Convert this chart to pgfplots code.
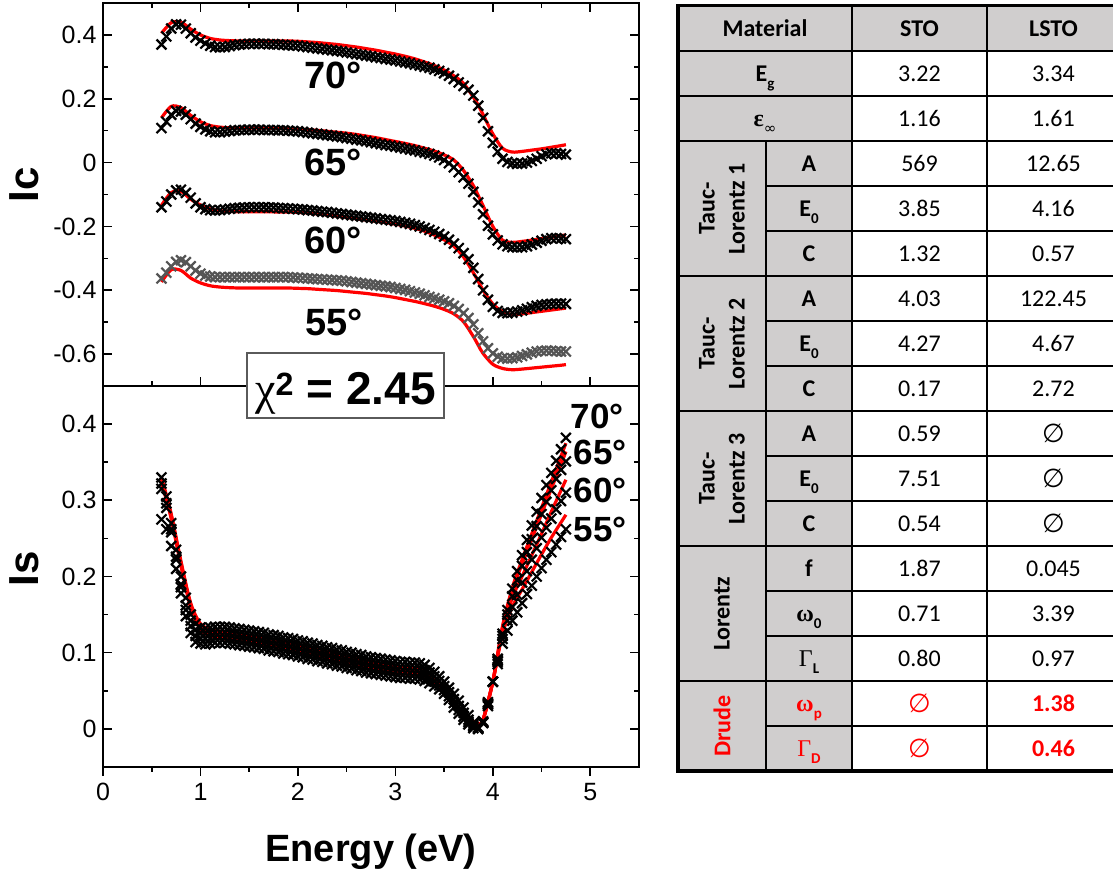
\documentclass[border=0pt]{standalone}
\usepackage{pgfplots}
\pgfplotsset{compat=1.18}
\usepackage{pgfplotstable}
\usepackage{fontspec}
\setmainfont{Liberation Sans}
\newfontfamily\calfont{Carlito}
\newfontfamily\serfont{Liberation Serif}
\newfontfamily\djfont{DejaVu Sans}
\definecolor{tabgray}{RGB}{208,206,206}
\definecolor{dgray}{RGB}{85,85,85}
\definecolor{fitred}{RGB}{255,0,0}
\newcommand\tf{\calfont\fontsize{24}{30}\selectfont}
\newcommand\sub[1]{\raisebox{-0.28em}{\fontsize{15}{15}\selectfont #1}}
\newcommand\es{{\djfont\fontsize{26}{28}\selectfont ∅}}

\pgfplotstableread{
E c70 c65 c60 c55 s70 s65 s60 s55
0.60 0.370 0.108 -0.140 -0.363 0.330 0.322 0.315 0.275
0.65 0.395 0.128 -0.122 -0.345 0.305 0.296 0.290 0.262
0.70 0.420 0.150 -0.100 -0.325 0.270 0.262 0.258 0.240
0.75 0.433 0.162 -0.087 -0.311 0.235 0.226 0.222 0.210
0.80 0.432 0.160 -0.085 -0.306 0.200 0.190 0.186 0.178
0.85 0.420 0.150 -0.095 -0.312 0.172 0.162 0.156 0.148
0.90 0.405 0.136 -0.110 -0.325 0.150 0.142 0.135 0.126
0.95 0.392 0.122 -0.128 -0.338 0.138 0.130 0.122 0.114
1.00 0.382 0.112 -0.140 -0.348 0.133 0.126 0.119 0.112
1.05 0.373 0.104 -0.146 -0.354 0.132 0.125 0.118 0.111
1.10 0.366 0.098 -0.149 -0.357 0.133 0.126 0.119 0.112
1.15 0.362 0.095 -0.150 -0.359 0.134 0.127 0.120 0.113
1.20 0.361 0.095 -0.149 -0.359 0.134 0.127 0.120 0.113
1.25 0.362 0.097 -0.147 -0.359 0.134 0.127 0.120 0.113
1.30 0.365 0.099 -0.145 -0.359 0.133 0.126 0.119 0.112
1.35 0.368 0.101 -0.143 -0.359 0.132 0.125 0.118 0.111
1.40 0.370 0.102 -0.142 -0.359 0.131 0.124 0.117 0.110
1.45 0.371 0.102 -0.141 -0.359 0.130 0.123 0.116 0.109
1.50 0.372 0.103 -0.140 -0.359 0.129 0.122 0.115 0.108
1.55 0.372 0.103 -0.140 -0.359 0.128 0.121 0.114 0.107
1.60 0.372 0.103 -0.140 -0.359 0.127 0.120 0.113 0.106
1.65 0.372 0.102 -0.140 -0.359 0.126 0.119 0.112 0.105
1.70 0.371 0.102 -0.141 -0.359 0.124 0.117 0.110 0.103
1.75 0.371 0.102 -0.141 -0.359 0.123 0.116 0.109 0.102
1.80 0.370 0.101 -0.142 -0.359 0.122 0.115 0.108 0.101
1.85 0.369 0.101 -0.143 -0.359 0.120 0.113 0.106 0.099
1.90 0.368 0.100 -0.144 -0.359 0.119 0.112 0.105 0.098
1.95 0.367 0.099 -0.145 -0.360 0.118 0.111 0.104 0.097
2.00 0.366 0.098 -0.146 -0.361 0.116 0.109 0.102 0.095
2.05 0.364 0.096 -0.147 -0.362 0.115 0.108 0.101 0.094
2.10 0.362 0.094 -0.149 -0.363 0.113 0.106 0.099 0.092
2.15 0.360 0.092 -0.150 -0.364 0.112 0.105 0.098 0.091
2.20 0.358 0.090 -0.152 -0.365 0.110 0.103 0.096 0.089
2.25 0.356 0.088 -0.154 -0.366 0.109 0.102 0.095 0.088
2.30 0.354 0.086 -0.155 -0.367 0.107 0.100 0.093 0.086
2.35 0.352 0.084 -0.157 -0.368 0.106 0.099 0.092 0.085
2.40 0.350 0.082 -0.159 -0.369 0.104 0.097 0.090 0.083
2.45 0.348 0.080 -0.161 -0.370 0.103 0.096 0.089 0.082
2.50 0.345 0.077 -0.163 -0.372 0.101 0.094 0.087 0.080
2.55 0.343 0.075 -0.165 -0.374 0.100 0.093 0.086 0.079
2.60 0.340 0.072 -0.167 -0.376 0.098 0.091 0.084 0.077
2.65 0.338 0.070 -0.169 -0.378 0.097 0.090 0.083 0.076
2.70 0.335 0.067 -0.171 -0.380 0.095 0.088 0.081 0.074
2.75 0.333 0.064 -0.173 -0.382 0.094 0.087 0.080 0.073
2.80 0.330 0.061 -0.175 -0.384 0.093 0.086 0.079 0.072
2.85 0.328 0.058 -0.177 -0.386 0.092 0.085 0.078 0.071
2.90 0.325 0.055 -0.179 -0.388 0.091 0.084 0.077 0.070
2.95 0.323 0.053 -0.181 -0.390 0.090 0.083 0.076 0.069
3.00 0.320 0.050 -0.183 -0.393 0.089 0.082 0.075 0.068
3.05 0.317 0.047 -0.186 -0.396 0.088 0.081 0.074 0.067
3.10 0.314 0.044 -0.189 -0.399 0.088 0.081 0.074 0.067
3.15 0.311 0.041 -0.192 -0.403 0.087 0.080 0.073 0.066
3.20 0.307 0.038 -0.196 -0.407 0.087 0.080 0.073 0.066
3.25 0.304 0.034 -0.200 -0.411 0.086 0.079 0.072 0.065
3.30 0.300 0.031 -0.205 -0.416 0.084 0.077 0.070 0.063
3.35 0.297 0.027 -0.211 -0.421 0.080 0.074 0.067 0.060
3.40 0.292 0.022 -0.217 -0.425 0.075 0.069 0.062 0.056
3.45 0.287 0.016 -0.224 -0.430 0.069 0.063 0.057 0.052
3.50 0.280 0.008 -0.232 -0.435 0.062 0.056 0.051 0.046
3.55 0.272 -0.002 -0.242 -0.441 0.054 0.048 0.043 0.038
3.60 0.262 -0.015 -0.254 -0.449 0.046 0.039 0.034 0.028
3.65 0.251 -0.030 -0.268 -0.459 0.037 0.030 0.025 0.020
3.70 0.240 -0.046 -0.284 -0.472 0.028 0.021 0.016 0.012
3.75 0.228 -0.066 -0.303 -0.487 0.018 0.012 0.009 0.006
3.80 0.210 -0.092 -0.330 -0.507 0.008 0.005 0.003 0.001
3.85 0.178 -0.125 -0.365 -0.535 0.002 0.001 0.000 0.000
3.90 0.140 -0.162 -0.400 -0.560 0.008 0.008 0.009 0.010
3.95 0.098 -0.198 -0.430 -0.582 0.030 0.032 0.033 0.035
4.00 0.062 -0.225 -0.452 -0.598 0.062 0.062 0.062 0.062
4.05 0.034 -0.244 -0.465 -0.608 0.092 0.090 0.088 0.085
4.10 0.012 -0.256 -0.471 -0.613 0.125 0.122 0.118 0.112
4.15 0.002 -0.262 -0.472 -0.614 0.156 0.150 0.142 0.129
4.20 -0.002 -0.265 -0.470 -0.613 0.184 0.174 0.160 0.142
4.25 -0.004 -0.266 -0.467 -0.610 0.207 0.195 0.176 0.153
4.30 -0.003 -0.265 -0.463 -0.606 0.228 0.214 0.192 0.165
4.35 0.000 -0.262 -0.458 -0.601 0.248 0.232 0.207 0.177
4.40 0.005 -0.257 -0.453 -0.596 0.267 0.249 0.222 0.188
4.45 0.012 -0.251 -0.449 -0.592 0.285 0.266 0.237 0.200
4.50 0.020 -0.245 -0.446 -0.590 0.303 0.282 0.251 0.211
4.55 0.026 -0.240 -0.444 -0.589 0.320 0.298 0.264 0.222
4.60 0.029 -0.237 -0.443 -0.590 0.336 0.313 0.276 0.232
4.65 0.029 -0.237 -0.442 -0.591 0.352 0.328 0.288 0.242
4.70 0.027 -0.238 -0.442 -0.592 0.367 0.340 0.299 0.252
4.75 0.025 -0.240 -0.443 -0.592 0.382 0.351 0.310 0.262
}\datatab

\pgfplotstableread{
E f70c f65c f60c f55c f70s f65s f60s f55s
0.60 0.405 0.140 -0.134 -0.374 0.330 0.328 0.326 0.324
0.70 0.438 0.176 -0.094 -0.336 0.282 0.280 0.278 0.276
0.80 0.440 0.172 -0.090 -0.338 0.220 0.218 0.216 0.214
0.90 0.418 0.148 -0.115 -0.362 0.165 0.163 0.161 0.159
1.00 0.400 0.128 -0.133 -0.377 0.138 0.136 0.133 0.130
1.10 0.389 0.116 -0.145 -0.386 0.131 0.128 0.125 0.122
1.20 0.384 0.111 -0.151 -0.390 0.128 0.125 0.122 0.119
1.30 0.382 0.109 -0.153 -0.392 0.126 0.123 0.120 0.117
1.40 0.381 0.108 -0.154 -0.393 0.124 0.121 0.118 0.115
1.50 0.381 0.108 -0.154 -0.393 0.122 0.119 0.116 0.113
1.60 0.381 0.108 -0.154 -0.393 0.120 0.117 0.114 0.111
1.70 0.381 0.108 -0.154 -0.393 0.118 0.115 0.112 0.109
1.80 0.381 0.107 -0.155 -0.393 0.116 0.113 0.110 0.107
1.90 0.381 0.106 -0.155 -0.393 0.113 0.110 0.107 0.104
2.00 0.380 0.105 -0.156 -0.394 0.111 0.108 0.105 0.102
2.10 0.378 0.103 -0.158 -0.395 0.108 0.105 0.102 0.099
2.20 0.376 0.101 -0.161 -0.397 0.105 0.102 0.099 0.096
2.30 0.373 0.098 -0.164 -0.399 0.102 0.099 0.096 0.093
2.40 0.370 0.095 -0.168 -0.401 0.099 0.096 0.093 0.090
2.50 0.366 0.092 -0.172 -0.404 0.096 0.093 0.090 0.087
2.60 0.362 0.088 -0.176 -0.407 0.093 0.090 0.087 0.084
2.70 0.357 0.083 -0.180 -0.410 0.090 0.087 0.084 0.081
2.80 0.352 0.078 -0.184 -0.414 0.087 0.084 0.081 0.078
2.90 0.346 0.072 -0.188 -0.418 0.084 0.081 0.078 0.075
3.00 0.340 0.066 -0.193 -0.423 0.082 0.079 0.076 0.073
3.10 0.333 0.060 -0.199 -0.429 0.081 0.078 0.075 0.072
3.20 0.325 0.053 -0.206 -0.435 0.080 0.077 0.074 0.071
3.30 0.315 0.045 -0.215 -0.442 0.077 0.074 0.071 0.068
3.40 0.304 0.036 -0.227 -0.450 0.066 0.064 0.062 0.060
3.50 0.290 0.024 -0.242 -0.460 0.050 0.048 0.047 0.046
3.60 0.272 0.008 -0.262 -0.474 0.034 0.033 0.032 0.031
3.70 0.248 -0.025 -0.296 -0.499 0.020 0.019 0.018 0.018
3.80 0.205 -0.072 -0.345 -0.545 0.010 0.010 0.009 0.009
3.85 0.180 -0.103 -0.372 -0.572 0.007 0.007 0.007 0.007
3.90 0.150 -0.135 -0.400 -0.598 0.012 0.012 0.012 0.012
4.00 0.090 -0.200 -0.443 -0.632 0.062 0.062 0.062 0.062
4.10 0.045 -0.243 -0.467 -0.645 0.135 0.133 0.130 0.125
4.20 0.033 -0.250 -0.476 -0.649 0.185 0.182 0.172 0.160
4.30 0.035 -0.247 -0.474 -0.647 0.222 0.216 0.200 0.183
4.40 0.039 -0.243 -0.470 -0.644 0.256 0.249 0.228 0.206
4.50 0.043 -0.238 -0.466 -0.641 0.290 0.282 0.256 0.229
4.60 0.048 -0.234 -0.462 -0.638 0.324 0.315 0.285 0.251
4.70 0.053 -0.229 -0.458 -0.635 0.358 0.347 0.313 0.271
4.75 0.056 -0.227 -0.456 -0.633 0.375 0.364 0.327 0.281
}\fittab

\pgfplotsset{
  datx/.style={only marks, mark=x, mark size=7pt, mark options={line width=2.2pt}, black},
  datg/.style={only marks, mark=x, mark size=7pt, mark options={line width=2.2pt}, dgray},
  fitl/.style={no markers, fitred, line width=3.2pt, smooth},
  myaxis/.style={scale only axis, width=536pt, xmin=0, xmax=5.5,
    xtick={0,1,2,3,4,5}, minor x tick num=1, minor y tick num=1,
    tick align=inside, axis line style={line width=1.6pt},
    tick style={black, line width=1.6pt},
    major tick length=9pt, minor tick length=5pt,
    tick label style={font=\fontsize{25}{30}\selectfont},
    yticklabel shift=3pt},
}

\begin{document}
\begin{tikzpicture}[x=1pt,y=1pt]
\path[use as bounding box] (0,0) rectangle (1113,874);

% ---------- upper axis: Ic ----------
\begin{axis}[myaxis, at={(103pt,488pt)}, anchor=south west, height=383pt,
  ymin=-0.7, ymax=0.5, xticklabels={},
  ytick={-0.6,-0.4,-0.2,0,0.2,0.4}, yticklabels={-0.6,-0.4,-0.2,0,0.2,0.4},
  ylabel={Ic}, ylabel style={font=\bfseries\fontsize{42}{48}\selectfont,
    at={(axis description cs:-0.146,0.525)}, anchor=center}]
\addplot[datx] table[x=E,y=c70]{\datatab};
\addplot[datx] table[x=E,y=c65]{\datatab};
\addplot[datx] table[x=E,y=c60]{\datatab};
\addplot[datg] table[x=E,y=c55]{\datatab};
\addplot[fitl] table[x=E,y=f70c]{\fittab};
\addplot[fitl] table[x=E,y=f65c]{\fittab};
\addplot[fitl] table[x=E,y=f60c]{\fittab};
\addplot[fitl] table[x=E,y=f55c]{\fittab};
\end{axis}

% ---------- lower axis: Is ----------
\begin{axis}[myaxis, at={(103pt,107pt)}, anchor=south west, height=381pt,
  ymin=-0.05, ymax=0.45, xtick pos=left,
  xticklabels={0,1,2,3,4,5},
  major x tick style={yshift=-9pt}, minor x tick style={yshift=-5pt},
  xticklabel shift=13pt,
  ytick={0,0.1,0.2,0.3,0.4}, yticklabels={0,0.1,0.2,0.3,0.4},
  xlabel={Energy (eV)}, xlabel style={font=\bfseries\fontsize{38}{44}\selectfont,
    at={(axis description cs:0.5,-0.249)}, anchor=base},
  ylabel={Is}, ylabel style={font=\bfseries\fontsize{42}{48}\selectfont,
    at={(axis description cs:-0.146,0.52)}, anchor=center}]
\addplot[datx] table[x=E,y=s70]{\datatab};
\addplot[datx] table[x=E,y=s65]{\datatab};
\addplot[datx] table[x=E,y=s60]{\datatab};
\addplot[datx] table[x=E,y=s55]{\datatab};
\addplot[fitl] table[x=E,y=f70s]{\fittab};
\addplot[fitl] table[x=E,y=f65s]{\fittab};
\addplot[fitl] table[x=E,y=f60s]{\fittab};
\addplot[fitl] table[x=E,y=f55s]{\fittab};
\end{axis}

% angle labels
\begin{scope}[every node/.style={font=\bfseries\fontsize{38}{44}\selectfont, inner sep=0pt}]
\node at (333,799) {70°};
\node at (333,712) {65°};
\node at (333,634) {60°};
\node at (334,552) {55°};
\end{scope}
\begin{scope}[every node/.style={font=\bfseries\fontsize{35}{40}\selectfont, inner sep=0pt}]
\node at (597,458) {70°};
\node at (600,422) {65°};
\node at (600,384) {60°};
\node at (600,344) {55°};
\end{scope}

% chi^2 box
\node[draw={rgb,255:red,90;green,90;blue,90}, line width=1.2pt, fill=white,
  minimum width=197pt, minimum height=65pt, inner sep=0pt] at (345.5,488.5) {};
\node[anchor=base, inner sep=0pt, font=\bfseries\fontsize{46}{50}\selectfont]
  at (345.5,469) {{\serfont\mdseries χ}\textsuperscript{2} = 2.45};

% ---------- table ----------
\fill[tabgray] (678,823) rectangle (1120,868);
\fill[tabgray] (678,103) rectangle (852,823);
\begin{scope}[line width=2pt]
\foreach \yy in {823,778,733,598,463,328,193} \draw (678,\yy) -- (1120,\yy);
\foreach \yy in {688,643,553,508,418,373,283,238,148} \draw (766,\yy) -- (1120,\yy);
\draw (852,103) -- (852,868);
\draw (987,103) -- (987,868);
\draw (766,103) -- (766,733);
\end{scope}
\draw[line width=3pt] (676,868) -- (1120,868);
\draw[line width=4pt] (678,101) -- (678,869.5);
\draw[line width=4.5pt] (676,103) -- (1120,103);

\begin{scope}[every node/.style={font=\tf, inner sep=0pt, anchor=base}]
% header
\node at (765,837.5) {\bfseries Material};
\node at (919.5,837.5) {\bfseries STO};
\node at (1053.5,837.5) {\bfseries LSTO};
% labels
\node at (765,792.5) {\bfseries E\sub{g}};
\node at (765,747.5) {{\serfont\bfseries ε}\sub{{\djfont ∞}}};
\node at (809,702.5) {\bfseries A};
\node at (809,657.5) {\bfseries E\sub{0}};
\node at (809,612.5) {\bfseries C};
\node at (809,567.5) {\bfseries A};
\node at (809,522.5) {\bfseries E\sub{0}};
\node at (809,477.5) {\bfseries C};
\node at (809,432.5) {\bfseries A};
\node at (809,387.5) {\bfseries E\sub{0}};
\node at (809,342.5) {\bfseries C};
\node at (809,297.5) {\bfseries f};
\node at (809,252.5) {{\serfont\bfseries ω}\sub{\bfseries 0}};
\node at (809,207.5) {{\serfont Γ}\sub{\bfseries L}};
\node[text=fitred] at (809,162.5) {{\serfont\bfseries ω}\sub{\bfseries p}};
\node[text=fitred] at (809,117.5) {{\serfont Γ}\sub{\bfseries D}};
% values
\node at (919.5,792.5) {3.22};   \node at (1053.5,792.5) {3.34};
\node at (919.5,747.5) {1.16};   \node at (1053.5,747.5) {1.61};
\node at (919.5,702.5) {569};    \node at (1053.5,702.5) {12.65};
\node at (919.5,657.5) {3.85};   \node at (1053.5,657.5) {4.16};
\node at (919.5,612.5) {1.32};   \node at (1053.5,612.5) {0.57};
\node at (919.5,567.5) {4.03};   \node at (1053.5,567.5) {122.45};
\node at (919.5,522.5) {4.27};   \node at (1053.5,522.5) {4.67};
\node at (919.5,477.5) {0.17};   \node at (1053.5,477.5) {2.72};
\node at (919.5,432.5) {0.59};
\node at (919.5,387.5) {7.51};
\node at (919.5,342.5) {0.54};
\node at (919.5,297.5) {1.87};   \node at (1053.5,297.5) {0.045};
\node at (919.5,252.5) {0.71};   \node at (1053.5,252.5) {3.39};
\node at (919.5,207.5) {0.80};   \node at (1053.5,207.5) {0.97};
\node[text=fitred] at (1053.5,162.5) {\bfseries 1.38};
\node[text=fitred] at (1053.5,117.5) {\bfseries 0.46};
\end{scope}
\begin{scope}[every node/.style={inner sep=0pt, anchor=center}]
\node at (1053.5,440.5) {\es};
\node at (1053.5,395.5) {\es};
\node at (1053.5,350.5) {\es};
\node[text=fitred] at (919.5,170.5) {\es};
\node[text=fitred] at (919.5,125.5) {\es};
\end{scope}
% group labels
\begin{scope}[every node/.style={font=\tf\bfseries, inner sep=0pt, rotate=90, align=center, anchor=center}]
\node at (722,665.5) {Tauc-\\Lorentz 1};
\node at (722,530.5) {Tauc-\\Lorentz 2};
\node at (722,395.5) {Tauc-\\Lorentz 3};
\node at (722,260.5) {Lorentz};
\node[text=fitred] at (722,148) {Drude};
\end{scope}
\end{tikzpicture}
\end{document}
